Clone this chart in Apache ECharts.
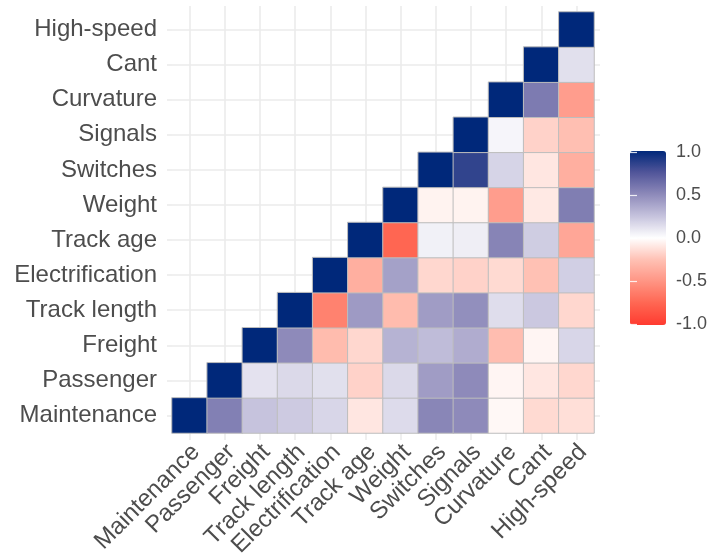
<!DOCTYPE html>
<html>
<head>
<meta charset="utf-8">
<script src="https://cdn.jsdelivr.net/npm/echarts@6/dist/echarts.min.js"></script>
<style>
  html, body { margin: 0; padding: 0; background: #ffffff; }
  #chart { width: 710px; height: 560px; }
</style>
</head>
<body>
<div id="chart"></div>
<script>
// Variables, bottom-to-top on the y axis and left-to-right on the x axis
const variables = ['Maintenance', 'Passenger', 'Freight', 'Track length', 'Electrification',
  'Track age', 'Weight', 'Switches', 'Signals', 'Curvature', 'Cant', 'High-speed'];

// Correlations of each variable with itself and every variable after it
const corrMaintenance     = [1, 0.55, 0.25, 0.22, 0.17, -0.10, 0.15, 0.52, 0.50, -0.03, -0.15, -0.13];
const corrPassenger       = [1, 0.12, 0.16, 0.13, -0.18, 0.16, 0.42, 0.50, -0.04, -0.10, -0.16];
const corrFreight         = [1, 0.50, -0.28, -0.16, 0.32, 0.28, 0.35, -0.27, -0.04, 0.17];
const corrTrackLength     = [1, -0.60, 0.43, -0.28, 0.42, 0.48, 0.14, 0.23, -0.16];
const corrElectrification = [1, -0.35, 0.40, -0.16, -0.18, -0.15, -0.25, 0.20];
const corrTrackAge        = [1, -0.75, 0.06, 0.07, 0.53, 0.21, -0.40];
const corrWeight          = [1, -0.05, -0.05, -0.45, -0.09, 0.56];
const corrSwitches        = [1, 0.85, 0.18, -0.10, -0.35];
const corrSignals         = [1, 0.04, -0.18, -0.26];
const corrCurvature       = [1, 0.57, -0.45];
const corrCant            = [1, 0.13];
const corrHighSpeed       = [1];

const corrRows = [corrMaintenance, corrPassenger, corrFreight, corrTrackLength,
  corrElectrification, corrTrackAge, corrWeight, corrSwitches, corrSignals,
  corrCurvature, corrCant, corrHighSpeed];

// Colour bar ticks
const scaleTicks = [-1, -0.5, 0, 0.5, 1];

// Heatmap cells: [column, row, r] for the upper-left triangle
const cells = [];
corrRows.forEach(function (row, r) {
  row.forEach(function (v, k) { cells.push([r + k, r, v]); });
});

const textColor = '#4D4D4D';
const gridColor = '#EBEBEB';
const font = 'Liberation Sans, Arial, sans-serif';

const plotBox = { left: 172, top: 12, width: 422, height: 421 };
const gridLine = { color: gridColor, width: 1.6 };

const chart = echarts.init(document.getElementById('chart'), null, { renderer: 'canvas' });

chart.setOption({
  animation: false,
  backgroundColor: '#ffffff',
  grid: [
    Object.assign({}, plotBox),
    { left: 170, top: 12, width: 422, height: 421 },
    { left: 630, top: 152, width: 36, height: 172 }
  ],
  xAxis: [
    { // cell axis, with short extensions of the grid lines below the panel
      type: 'category', gridIndex: 0, data: variables, position: 'bottom',
      axisLine: { show: false },
      axisTick: { show: true, alignWithLabel: true, interval: 0, length: 7, lineStyle: gridLine },
      axisLabel: { show: false },
      splitLine: { show: true, alignWithLabel: true, interval: 0, lineStyle: gridLine }
    },
    {
      type: 'category', gridIndex: 0, data: variables, position: 'top',
      axisLine: { show: false },
      axisTick: { show: true, alignWithLabel: true, interval: 0, length: 6, lineStyle: gridLine },
      axisLabel: { show: false }, splitLine: { show: false }
    },
    { // rotated variable names
      type: 'category', gridIndex: 1, data: variables, position: 'bottom',
      axisLine: { show: false }, axisTick: { show: false }, splitLine: { show: false },
      axisLabel: {
        show: true, interval: 0, rotate: 45, margin: 11,
        align: 'right', verticalAlign: 'top',
        color: textColor, fontSize: 24, fontFamily: font
      }
    },
    { type: 'value', gridIndex: 2, show: false, min: 0, max: 1 }
  ],
  yAxis: [
    {
      type: 'category', gridIndex: 0, data: variables, position: 'left',
      axisLine: { show: false },
      axisTick: { show: true, alignWithLabel: true, interval: 0, length: 5, lineStyle: gridLine },
      axisLabel: { show: true, interval: 0, margin: 15, color: textColor, fontSize: 24, fontFamily: font },
      splitLine: { show: true, alignWithLabel: true, interval: 0, lineStyle: gridLine }
    },
    {
      type: 'category', gridIndex: 0, data: variables, position: 'right',
      axisLine: { show: false },
      axisTick: { show: true, alignWithLabel: true, interval: 0, length: 6, lineStyle: gridLine },
      axisLabel: { show: false }, splitLine: { show: false }
    },
    { type: 'category', gridIndex: 1, data: variables, show: false },
    { // colour bar labels and right-hand ticks
      type: 'value', gridIndex: 2, position: 'right', z: 10,
      min: scaleTicks[0], max: scaleTicks[scaleTicks.length - 1], interval: 0.5,
      axisLine: { show: false },
      axisTick: { show: true, inside: true, length: 7, lineStyle: { color: 'rgba(255,255,255,0.85)', width: 1.2 } },
      axisLabel: {
        show: true, margin: 11, color: textColor, fontSize: 18, fontFamily: font,
        formatter: function (v) { return v.toFixed(1); }
      },
      splitLine: { show: false }
    },
    { // colour bar left-hand ticks
      type: 'value', gridIndex: 2, position: 'left', z: 10,
      min: scaleTicks[0], max: scaleTicks[scaleTicks.length - 1], interval: 0.5,
      axisLine: { show: false },
      axisTick: { show: true, inside: true, length: 7, lineStyle: { color: 'rgba(255,255,255,0.85)', width: 1.2 } },
      axisLabel: { show: false },
      splitLine: { show: false }
    }
  ],
  visualMap: {
    type: 'continuous',
    seriesIndex: 0,
    dimension: 2,
    min: -1,
    max: 1,
    orient: 'vertical',
    left: 630,
    top: 151,
    itemWidth: 36,
    itemHeight: 174,
    padding: 0,
    calculable: false,
    hoverLink: false,
    text: null,
    inRange: {
      color: ['#FF3B30', '#FF6652', '#FF9483', '#FFC1B4', '#FFFFFF',
              '#C6C3DD', '#8E8ABA', '#52569A', '#00287A']
    }
  },
  series: [{
    type: 'heatmap',
    xAxisIndex: 0,
    yAxisIndex: 0,
    data: cells,
    itemStyle: { borderColor: '#BDBDBD', borderWidth: 1 },
    emphasis: { disabled: true },
    label: { show: false }
  }]
});
</script>
</body>
</html>
